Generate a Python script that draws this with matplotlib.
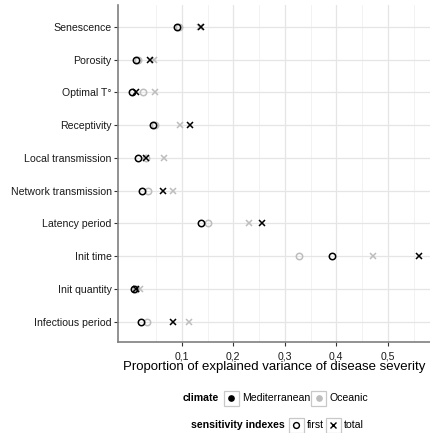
import matplotlib
matplotlib.use("Agg")
import matplotlib.pyplot as plt
import matplotlib.ticker as mticker
from matplotlib.lines import Line2D
from matplotlib.patches import Rectangle

plt.rcParams["font.family"] = ["Liberation Sans", "DejaVu Sans"]

categories = ["Senescence", "Porosity", "Optimal T°", "Receptivity", "Local transmission",
              "Network transmission", "Latency period", "Init time", "Init quantity",
              "Infectious period"]
med_first = [0.090, 0.010, 0.003, 0.044, 0.015, 0.022, 0.137, 0.391, 0.007, 0.020]
med_total = [0.137, 0.038, 0.010, 0.115, 0.030, 0.063, 0.255, 0.560, 0.011, 0.083]
oce_first = [0.095, 0.015, 0.024, 0.047, 0.030, 0.034, 0.150, 0.327, 0.010, 0.032]
oce_total = [0.135, 0.045, 0.047, 0.096, 0.065, 0.082, 0.230, 0.471, 0.018, 0.113]
xticks = [0.1, 0.2, 0.3, 0.4, 0.5]

W, H = 431, 433
fig = plt.figure(figsize=(W / 100, H / 100), dpi=100)
ax = fig.add_axes([118 / W, 1 - 342 / H, 312 / W, 337 / H])

black = "#000000"
grey = "#bdbdbd"
ypos = list(range(len(categories)))

# oceanic first, so mediterranean sits on top
ax.plot(oce_first, ypos, "o", mfc="none", mec=grey, ms=4.6, mew=1.1, ls="none", zorder=3)
ax.plot(oce_total, ypos, "x", color=grey, ms=4.2, mew=1.1, ls="none", zorder=3)
ax.plot(med_first, ypos, "o", mfc="none", mec=black, ms=4.6, mew=1.1, ls="none", zorder=4)
ax.plot(med_total, ypos, "x", color=black, ms=4.2, mew=1.1, ls="none", zorder=4)

ax.set_xlim(-0.024, 0.582)
ax.set_ylim(9.62, -0.67)
ax.set_yticks(ypos)
ax.set_yticklabels(categories, fontsize=7.6, color="#1a1a1a")
ax.set_xticks(xticks)
ax.xaxis.set_major_formatter(mticker.FuncFormatter(lambda v, p: f"{v:.1f}".replace(".", ",")))
ax.xaxis.set_minor_locator(mticker.FixedLocator([0.05, 0.15, 0.25, 0.35, 0.45, 0.55]))
ax.tick_params(axis="x", labelsize=7.6, length=3, width=0.8, color="#333333", pad=3.5, labelcolor="#1a1a1a")
ax.tick_params(axis="y", length=3, width=0.8, color="#333333", pad=1.5)
ax.tick_params(axis="x", which="minor", length=0)
ax.set_xlabel("Proportion of explained variance of disease severity", fontsize=9.5, labelpad=0)

ax.grid(True, which="major", color="#e5e5e5", linewidth=0.9)
ax.grid(True, which="minor", axis="x", color="#f0f0f0", linewidth=0.6)
ax.set_axisbelow(True)
for s in ["top", "right"]:
    ax.spines[s].set_visible(False)
for s in ["left", "bottom"]:
    ax.spines[s].set_color("#7f7f7f")
    ax.spines[s].set_linewidth(1.2)


def fx(px):
    return px / W


def fy(py):
    return 1 - py / H


def key_box(x0, yc, marker, color, filled):
    fig.patches.append(Rectangle((fx(x0), fy(yc + 7.5)), 15 / W, 15 / H, transform=fig.transFigure,
                                 fill=False, edgecolor="#c8c8c8", linewidth=0.9))
    fig.lines.append(Line2D([fx(x0 + 7.5)], [fy(yc)], transform=fig.transFigure, marker=marker,
                            color=color, mfc=color if filled else "none", mec=color,
                            ms=3.8 if filled else 4.2, mew=1.0, ls="none"))


fs = 7.6
# climate legend
yc1 = 398
fig.text(fx(219), fy(yc1), "climate", fontsize=fs, fontweight="bold", ha="right", va="center")
key_box(224, yc1, "o", black, True)
fig.text(fx(242), fy(yc1), "Mediterranean", fontsize=fs, va="center")
key_box(311, yc1, "o", grey, True)
fig.text(fx(329), fy(yc1), "Oceanic", fontsize=fs, va="center")

# sensitivity index legend
yc2 = 425
fig.text(fx(285), fy(yc2), "sensitivity indexes", fontsize=fs, fontweight="bold", ha="right", va="center")
key_box(289, yc2, "o", black, False)
fig.text(fx(307), fy(yc2), "first", fontsize=fs, va="center")
key_box(326, yc2, "x", black, False)
fig.text(fx(344), fy(yc2), "total", fontsize=fs, va="center")

fig.savefig("out.png", dpi=100)
